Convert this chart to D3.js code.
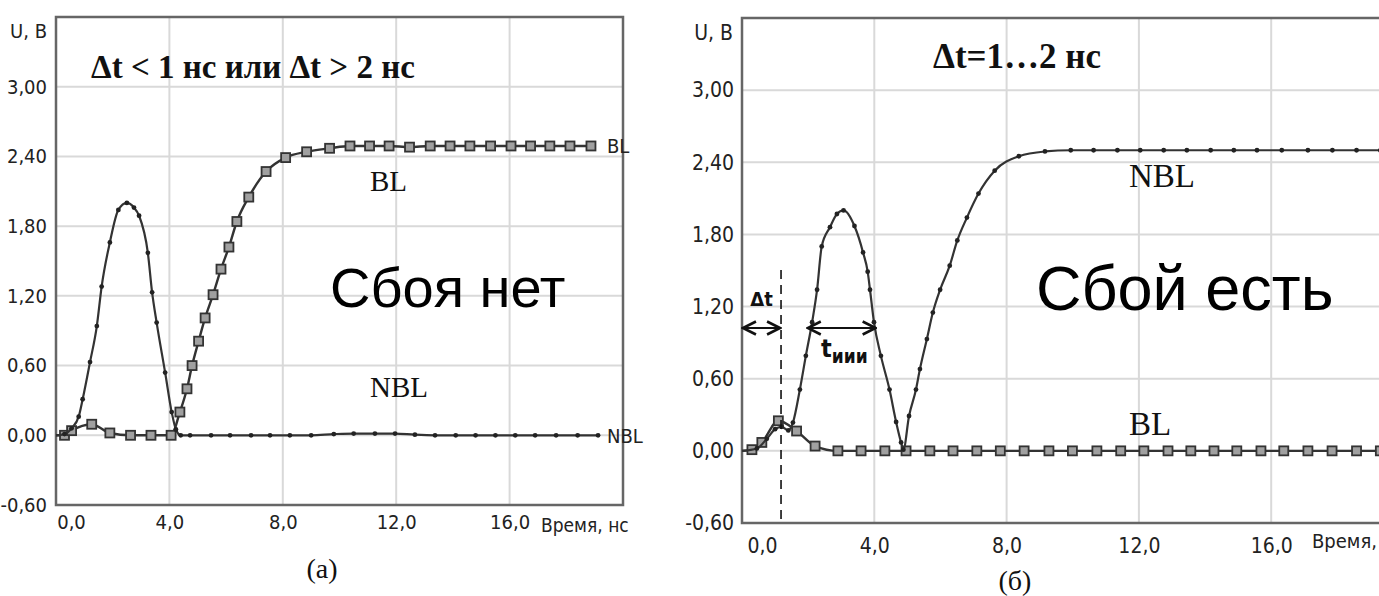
<!DOCTYPE html>
<html><head><meta charset="utf-8">
<script src="https://cdn.jsdelivr.net/npm/d3@7"></script>
<style>body{margin:0;background:#fff}svg{display:block}</style>
</head><body>
<svg id="c" width="1379" height="596"></svg>
<script>
// ---- shared axis ticks ----
const yTicks = [-0.6, 0, 0.6, 1.2, 1.8, 2.4, 3.0];
const yTickLabels = ["-0,60", "0,00", "0,60", "1,20", "1,80", "2,40", "3,00"];
const xTicks = [0, 4, 8, 12, 16];
const xTickLabels = ["0,0", "4,0", "8,0", "12,0", "16,0"];
const xDomain = [0, 20];
const yDomain = [-0.6, 3.6];

// ---- panel (а): time [ns], voltage [V] ----
const aBL = [[0,0],[0.3,0.0],[0.55,0.04],[1.26,0.095],[1.9,0.02],[2.63,0],[3.35,0],[4.06,0],[4.37,0.2],[4.62,0.40],[4.80,0.60],[5.03,0.81],[5.26,1.01],[5.54,1.21],[5.82,1.43],[6.10,1.62],[6.38,1.84],[6.80,2.05],[7.41,2.27],[8.10,2.39],[8.84,2.44],[9.65,2.47],[10.37,2.49],[11.06,2.49],[11.75,2.49],[12.47,2.48],[13.2,2.49],[13.9,2.49],[14.6,2.49],[15.33,2.49],[16.05,2.49],[16.74,2.49],[17.42,2.49],[18.13,2.49],[18.87,2.49]];
const aNBL = [[0,0],[0.3,0.01],[0.55,0.06],[0.8,0.16],[0.94,0.31],[1.2,0.63],[1.44,0.94],[1.61,1.28],[1.9,1.66],[2.2,1.94],[2.5,2.0],[2.75,1.96],[2.93,1.89],[3.24,1.57],[3.39,1.23],[3.55,0.97],[3.85,0.54],[4.08,0.2],[4.23,0.05],[4.4,0.0],[4.73,0],[5.47,0],[6.14,0],[6.88,0],[7.55,0],[8.25,0],[9.0,0],[9.8,0.01],[10.5,0.015],[11.25,0.015],[11.96,0.015],[12.66,0.005],[13.37,0],[14.1,0],[14.8,0],[15.5,0],[16.2,0],[16.9,0],[17.64,0],[18.4,0],[19.12,0]];

// ---- panel (б) ----
const bBL = [[0,0],[0.3,0.01],[0.6,0.07],[1.1,0.25],[1.65,0.165],[2.21,0.04],[2.9,0],[3.6,0],[4.32,0],[4.96,0],[5.68,0],[6.38,0],[7.1,0],[7.81,0],[8.53,0],[9.28,0],[9.99,0],[10.73,0],[11.45,0],[12.15,0],[12.88,0],[13.57,0],[14.27,0],[14.96,0],[15.69,0],[16.38,0],[17.11,0],[17.84,0],[18.58,0],[19.3,0],[20.0,0]];
const bNBL = [[0,0],[0.45,0.02],[0.75,0.1],[1.0,0.18],[1.2,0.2],[1.4,0.17],[1.54,0.235],[1.75,0.51],[1.93,0.79],[2.12,1.07],[2.27,1.34],[2.41,1.7],[2.66,1.86],[2.87,1.97],[3.07,2.0],[3.4,1.87],[3.66,1.65],[3.8,1.49],[3.87,1.34],[3.99,1.07],[4.2,0.79],[4.46,0.51],[4.66,0.24],[4.81,0.07],[4.88,0.01],[5.05,0.29],[5.26,0.51],[5.38,0.68],[5.59,0.93],[5.77,1.15],[5.99,1.34],[6.28,1.54],[6.51,1.75],[6.8,1.94],[7.15,2.14],[7.64,2.33],[8.37,2.45],[9.16,2.49],[9.94,2.5],[10.63,2.5],[11.35,2.5],[12.04,2.5],[12.75,2.5],[13.45,2.5],[14.17,2.5],[14.87,2.5],[15.57,2.5],[16.32,2.5],[17.11,2.5],[17.85,2.5],[18.58,2.5],[19.3,2.5],[20.0,2.5]];
const bDeltaT = 1.18;           // dashed marker time, ns
const bTiiiSpan = [1.99, 4.04]; // t_иии arrow span, ns

const NARROW = '"Liberation Sans Narrow","DejaVu Sans Condensed","Arial Narrow",sans-serif';
const SERIF = '"Liberation Serif","Times New Roman",serif';
const SANS = '"Liberation Sans",Arial,sans-serif';
const LINE = "#333";

const svg = d3.select("#c");
const defs = svg.append("defs");
defs.append("marker").attr("id","arr").attr("viewBox","0 0 10 10").attr("refX",9).attr("refY",5)
  .attr("markerWidth",9).attr("markerHeight",9).attr("orient","auto-start-reverse")
  .append("path").attr("d","M1,1 L9,5 L1,9").attr("fill","none").attr("stroke","#111").attr("stroke-width",1.6);

function panel(o){
  const x = d3.scaleLinear().domain(xDomain).range(o.xr);
  const y = d3.scaleLinear().domain(yDomain).range(o.yr);
  const g = svg.append("g");
  // grid
  g.selectAll(".hg").data(yTicks.filter(d=>d>-0.6)).join("line")
    .attr("x1",x(0)).attr("x2",x(20)).attr("y1",d=>y(d)).attr("y2",d=>y(d))
    .attr("stroke","#d9d9d9").attr("stroke-width",2);
  g.selectAll(".vg").data(xTicks.filter(d=>d>0)).join("line")
    .attr("x1",d=>x(d)).attr("x2",d=>x(d)).attr("y1",y(3.6)).attr("y2",y(-0.6))
    .attr("stroke","#d9d9d9").attr("stroke-width",2);
  // frame
  g.append("rect").attr("x",x(0)).attr("y",y(3.6)).attr("width",x(20)-x(0)).attr("height",y(-0.6)-y(3.6))
    .attr("fill","none").attr("stroke","#666").attr("stroke-width",2.5);
  // y axis labels
  const ya = g.append("g").attr("transform",`translate(${x(0)},0)`)
    .call(d3.axisLeft(y).tickValues(yTicks).tickFormat((d,i)=>yTickLabels[i]).tickSize(0).tickPadding(o.ypad));
  ya.select(".domain").remove();
  ya.selectAll("text").attr("font-family",NARROW).attr("font-size",o.fs).attr("fill","#222");
  // x axis labels
  const xa = g.append("g").attr("transform",`translate(0,${y(-0.6)})`)
    .call(d3.axisBottom(x).tickValues(xTicks).tickFormat((d,i)=>xTickLabels[i]).tickSize(0).tickPadding(o.xpad));
  xa.select(".domain").remove();
  xa.selectAll("text").attr("font-family",NARROW).attr("font-size",o.fs).attr("fill","#222")
    .attr("dx",(d,i)=>i===0?o.zeroShift:0);
  g.append("text").attr("x",o.timeX).attr("y",o.timeY).attr("font-family",NARROW).attr("font-size",o.fs-1)
    .attr("fill","#222").text(o.timeText);
  g.append("text").attr("x",x(0)-9).attr("y",o.uY).attr("text-anchor","end").attr("font-family",NARROW)
    .attr("font-size",o.fs).attr("fill","#222").text("U, В");

  const line = d3.line().x(d=>x(d[0])).y(d=>y(d[1])).curve(d3.curveMonotoneX);
  // square-marker series
  g.append("path").datum(o.sq).attr("d",line).attr("fill","none").attr("stroke",LINE).attr("stroke-width",2.4);
  g.selectAll(".sq").data(o.sq.slice(1)).join("rect")
    .attr("x",d=>x(d[0])-4.5).attr("y",d=>y(d[1])-4.5).attr("width",9).attr("height",9)
    .attr("fill","#a0a0a0").attr("stroke","#333").attr("stroke-width",1.8);
  // dot-marker series
  g.append("path").datum(o.dot).attr("d",line).attr("fill","none").attr("stroke",LINE).attr("stroke-width",2.2);
  g.selectAll(".dt").data(o.dot.slice(1)).join("circle")
    .attr("cx",d=>x(d[0])).attr("cy",d=>y(d[1])).attr("r",2.4).attr("fill","#222");
  return {x,y,g};
}

// ---------- panel (а) ----------
const A = panel({xr:[56,623], yr:[505,17], fs:20, ypad:9, xpad:10, zeroShift:15, timeX:541, timeY:532, uY:38,
  timeText:"Время, нс", sq:aBL, dot:aNBL});
A.g.append("text").attr("x",607).attr("y",A.y(2.49)+7).attr("font-family",NARROW).attr("font-size",20).attr("fill","#222").text("BL");
A.g.append("text").attr("x",607).attr("y",A.y(0)+8).attr("font-family",NARROW).attr("font-size",20).attr("fill","#222").text("NBL");
A.g.append("text").attr("x",91).attr("y",78).attr("font-family",SERIF).attr("font-weight","bold").attr("font-size",33).attr("fill","#111").text("Δt < 1 нс или Δt > 2 нс");
A.g.append("text").attr("x",370).attr("y",191).attr("font-family",SERIF).attr("font-size",29).attr("fill","#111").text("BL");
A.g.append("text").attr("x",370).attr("y",397).attr("font-family",SERIF).attr("font-size",29).attr("fill","#111").text("NBL");
A.g.append("text").attr("x",330).attr("y",307).attr("font-family",SANS).attr("font-size",56).attr("fill","#000").text("Сбоя нет");
A.g.append("text").attr("x",322).attr("y",578).attr("text-anchor","middle").attr("font-family",SERIF).attr("font-size",28).attr("fill","#111").text("(а)");

// ---------- panel (б) ----------
const B = panel({xr:[742,1403.5], yr:[523,18], fs:21, ypad:8, xpad:15, zeroShift:20, timeX:1312, timeY:548, uY:40,
  timeText:"Время,", sq:bBL, dot:bNBL});
B.g.append("text").attr("x",933).attr("y",68).attr("font-family",SERIF).attr("font-weight","bold").attr("font-size",35).attr("fill","#111").text("Δt=1…2 нс");
B.g.append("text").attr("x",1129).attr("y",187).attr("font-family",SERIF).attr("font-size",33).attr("fill","#111").text("NBL");
B.g.append("text").attr("x",1129).attr("y",435).attr("font-family",SERIF).attr("font-size",33).attr("fill","#111").text("BL");
B.g.append("text").attr("x",1036).attr("y",310).attr("font-family",SANS).attr("font-size",63).attr("fill","#000").text("Сбой есть");
B.g.append("text").attr("x",1015).attr("y",590).attr("text-anchor","middle").attr("font-family",SERIF).attr("font-size",28).attr("fill","#111").text("(б)");
// Δt annotation
B.g.append("line").attr("x1",B.x(bDeltaT)).attr("x2",B.x(bDeltaT)).attr("y1",270).attr("y2",B.y(-0.6)+2)
  .attr("stroke","#111").attr("stroke-width",1.6).attr("stroke-dasharray","9,6");
B.g.append("line").attr("x1",B.x(0)+1).attr("x2",B.x(bDeltaT)-1).attr("y1",328).attr("y2",328)
  .attr("stroke","#111").attr("stroke-width",1.8).attr("marker-start","url(#arr)").attr("marker-end","url(#arr)");
B.g.append("text").attr("x",(B.x(0)+B.x(bDeltaT))/2).attr("y",306).attr("text-anchor","middle")
  .attr("font-family",NARROW).attr("font-weight","bold").attr("font-size",20).attr("fill","#111").text("Δt");
B.g.append("line").attr("x1",B.x(bTiiiSpan[0])).attr("x2",B.x(bTiiiSpan[1])).attr("y1",328).attr("y2",328)
  .attr("stroke","#111").attr("stroke-width",1.8).attr("marker-start","url(#arr)").attr("marker-end","url(#arr)");
const tt = B.g.append("text").attr("x",821).attr("y",357).attr("font-family",NARROW).attr("font-weight","bold").attr("font-size",25).attr("fill","#111");
tt.append("tspan").text("t");
tt.append("tspan").attr("dy",6).attr("font-size",19).text("иии");
</script>
</body></html>
